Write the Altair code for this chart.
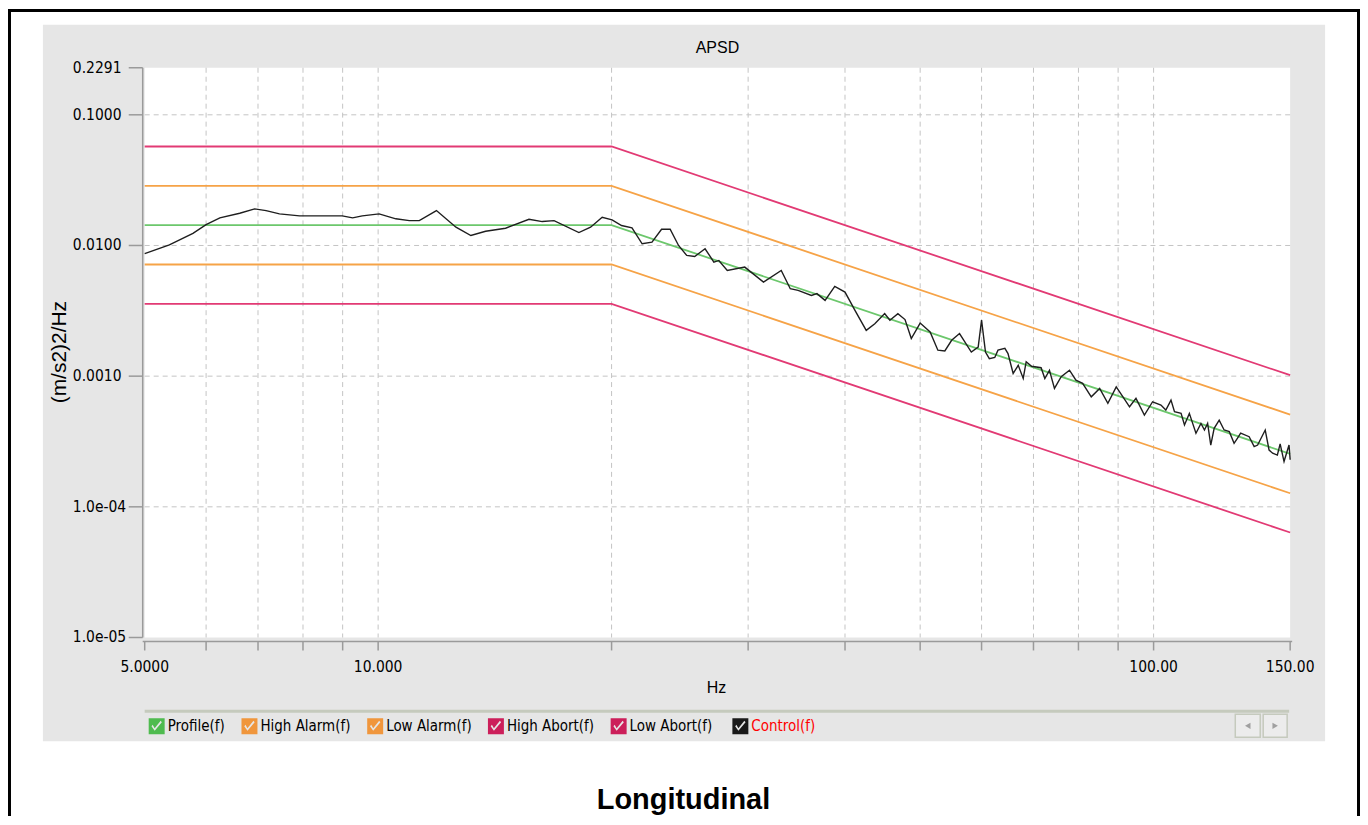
import altair as alt
import pandas as pd

# ---------------- data ----------------
series_names = ["Profile(f)", "High Alarm(f)", "Low Alarm(f)", "High Abort(f)", "Low Abort(f)", "Control(f)"]
line_colors = ["#6cc76c", "#f6a347", "#f6a347", "#e23a74", "#e23a74", "#1e1e1e"]
box_colors = ["#4fbb4f", "#f0963c", "#f0963c", "#cc1f5a", "#cc1f5a", "#1a1a1a"]

limit_freq = [5, 20, 150]
profile = [0.0143, 0.0143, 0.000254]
high_alarm = [0.0286, 0.0286, 0.000508]
low_alarm = [0.00715, 0.00715, 0.000127]
high_abort = [0.0572, 0.0572, 0.001017]
low_abort = [0.003575, 0.003575, 0.0000636]

control_freq = [5.0, 5.38, 5.77, 6.0, 6.25, 6.63, 6.93, 7.17, 7.46, 7.92, 8.99, 9.27, 9.54, 10.03,
                10.54, 10.97, 11.3, 11.89, 12.6, 13.17, 13.76, 14.6, 15.65, 16.28, 16.86, 18.15,
                18.79, 19.45, 20.03, 20.6, 21.25, 21.9, 22.55, 23.2, 23.8, 24.4, 25.0, 25.6, 26.4,
                27.1, 27.5, 28.2, 29.7, 31.4, 33.1, 34.0, 34.8, 36.2, 36.8, 37.7, 38.8, 40.0, 41.2,
                42.6, 43.7, 45.0, 45.7, 46.8, 47.8, 48.7, 50.0, 51.5, 52.7, 53.8, 54.9, 56.2, 58.2,
                59.4, 60.0, 60.7, 61.4, 62.4, 63.0, 64.3, 64.9, 65.9, 66.9, 67.9, 68.5, 69.6, 71.6,
                72.4, 73.4, 74.5, 76.0, 77.9, 79.4, 81.0, 83.1, 85.2, 87.3, 89.5, 91.3, 93.1, 94.9,
                97.3, 99.7, 102.2, 103.7, 105.3, 106.4, 108.5, 109.6, 111.2, 112.3, 113.4, 115.1,
                116.3, 117.4, 118.5, 119.7, 121.5, 123.3, 125.2, 127.0, 128.3, 129.5, 132.8, 134.8,
                136.2, 139.3, 140.9, 142.4, 144.4, 145.6, 147.3, 149.5, 150.0]
control_psd = [0.00865, 0.0101, 0.0124, 0.01446, 0.01627, 0.01765, 0.01906, 0.0185, 0.01746, 0.01686,
               0.01686, 0.01627, 0.01686, 0.01746, 0.0160, 0.0155, 0.0155, 0.0185, 0.0138, 0.01192,
               0.01285, 0.01356, 0.01588, 0.01524, 0.0155, 0.01256, 0.0138, 0.01644, 0.0157, 0.01421,
               0.01365, 0.0103, 0.0106, 0.01331, 0.01331, 0.0100, 0.00839, 0.00824, 0.00944, 0.00746,
               0.00768, 0.00644, 0.00683, 0.00525, 0.00644, 0.00467, 0.00453, 0.00415, 0.00428, 0.0038,
               0.00486, 0.0044, 0.00319, 0.00224, 0.00252, 0.00301, 0.00268, 0.00301, 0.00271, 0.00194,
               0.00255, 0.00218, 0.00158, 0.00156, 0.00188, 0.00212, 0.00153, 0.00167, 0.00268, 0.00153,
               0.00136, 0.00139, 0.00158, 0.00163, 0.00149, 0.00105, 0.00121, 0.00096, 0.00129, 0.00119,
               0.00116, 0.00096, 0.00111, 0.000805, 0.00099, 0.00111, 0.000932, 0.00088, 0.000695,
               0.000805, 0.000619, 0.000828, 0.000695, 0.000583, 0.000676, 0.000504, 0.000637, 0.000601,
               0.00055, 0.000656, 0.000534, 0.000519, 0.000423, 0.000519, 0.000435, 0.000366, 0.000435,
               0.000387, 0.000435, 0.000297, 0.000399, 0.000461, 0.000387, 0.000376, 0.000306, 0.000335,
               0.000366, 0.000344, 0.000289, 0.000297, 0.000387, 0.000272, 0.000257, 0.000249, 0.000303,
               0.000222, 0.000297, 0.000229]

x_ticks = [5, 6, 7, 8, 9, 10, 20, 30, 40, 50, 60, 70, 80, 90, 100, 150]
x_label_values = [5, 10, 100, 150]
x_label_texts = ["5.0000", "10.000", "100.00", "150.00"]
x_grid = [6, 7, 8, 9, 10, 20, 30, 40, 50, 60, 70, 80, 90, 100]

y_ticks = [1e-05, 1e-04, 1e-03, 1e-02, 0.1, 0.2291]
y_label_texts = ["1.0e-05", "1.0e-04", "0.0010", "0.0100", "0.1000", "0.2291"]
y_grid = [1e-04, 1e-03, 1e-02, 0.1]

# ---------------- tables ----------------
limit_map = {"Profile(f)": profile, "High Alarm(f)": high_alarm, "Low Alarm(f)": low_alarm,
             "High Abort(f)": high_abort, "Low Abort(f)": low_abort}
rows = []
for name, vals in limit_map.items():
    for f, v in zip(limit_freq, vals):
        rows.append({"series": name, "f": f, "psd": v})
limits_df = pd.DataFrame(rows)
control_df = pd.DataFrame({"f": control_freq, "psd": control_psd})
legend_df = pd.DataFrame({"series": series_names})
xtick_df = pd.DataFrame({"v": x_ticks})
ytick_df = pd.DataFrame({"v": y_ticks})
xlab_df = pd.DataFrame({"v": x_label_values, "t": x_label_texts})
ylab_df = pd.DataFrame({"v": y_ticks, "t": y_label_texts})
one = pd.DataFrame({"a": [0]})

COND = "DejaVu Sans Condensed, DejaVu Sans, sans-serif"
SANS = "Liberation Sans, Arial, sans-serif"
W, H = 1148, 571
GREY = "#e6e6e6"
AXC = "#9a9a9a"

xscale = alt.Scale(type="log", domain=[5, 150], nice=False)
yscale = alt.Scale(type="log", domain=[1e-05, 0.2291], nice=False)

CHECK = ("M-1,-1L1,-1L1,1L-1,1Z "
         "M-0.65,0L-0.25,0.55L0.65,-0.5L0.5,-0.7L-0.25,0.25L-0.5,-0.2Z")

base = alt.Chart(one)

# white outer frame around the grey panel (the svg background is the grey panel colour)
frame_top = base.mark_rect(color="#ffffff").encode(x=alt.value(-140), x2=alt.value(1220),
                                                    y=alt.value(-60), y2=alt.value(-43))
frame_left = base.mark_rect(color="#ffffff").encode(x=alt.value(-140), x2=alt.value(-102),
                                                     y=alt.value(-60), y2=alt.value(760))
frame_right = base.mark_rect(color="#ffffff").encode(x=alt.value(1183), x2=alt.value(1220),
                                                      y=alt.value(-60), y2=alt.value(760))
frame_bottom = base.mark_rect(color="#ffffff").encode(x=alt.value(-140), x2=alt.value(1220),
                                                       y=alt.value(675), y2=alt.value(760))
plot_bg = base.mark_rect(color="#ffffff").encode(x=alt.value(0), x2=alt.value(W),
                                                  y=alt.value(0), y2=alt.value(H))
border = base.mark_rect(fillOpacity=0, stroke="#000000", strokeWidth=3).encode(
    x=alt.value(-135.5), x2=alt.value(1216.5), y=alt.value(-57.5), y2=alt.value(790))
separator = base.mark_rule(color="#c5cabd", strokeWidth=3).encode(
    x=alt.value(0), x2=alt.value(1147), y=alt.value(645))
btn1 = base.mark_rect(fill="#ececec", stroke="#c5cabd", strokeWidth=1.5).encode(
    x=alt.value(1093), x2=alt.value(1118), y=alt.value(648), y2=alt.value(671))
btn2 = base.mark_rect(fill="#ececec", stroke="#c5cabd", strokeWidth=1.5).encode(
    x=alt.value(1121), x2=alt.value(1145), y=alt.value(648), y2=alt.value(671))
tri1 = base.mark_point(shape="triangle-left", filled=True, color="#a0a0a0", size=40, opacity=1).encode(
    x=alt.value(1105.5), y=alt.value(659.5))
tri2 = base.mark_point(shape="triangle-right", filled=True, color="#a0a0a0", size=40, opacity=1).encode(
    x=alt.value(1133), y=alt.value(659.5))
title_txt = base.mark_text(text="APSD", font=SANS, fontSize=16, color="#000000",
                           baseline="middle", align="center").encode(x=alt.value(574), y=alt.value(-20))
caption = base.mark_text(text="Longitudinal", font=SANS, fontSize=29, fontWeight="bold",
                         color="#000000", baseline="alphabetic", align="center").encode(
    x=alt.value(540), y=alt.value(743))
x_title = base.mark_text(text="Hz", font=SANS, fontSize=16, color="#000000",
                         baseline="middle", align="center").encode(x=alt.value(573), y=alt.value(622))
y_title = base.mark_text(text="(m/s2)2/Hz", font=SANS, fontSize=21, color="#000000", angle=270,
                         baseline="middle", align="center").encode(x=alt.value(-85), y=alt.value(285))

# axis lines, ticks and labels (drawn through the scales)
y_domain = base.mark_rule(color=AXC, strokeWidth=1.5).encode(
    x=alt.value(-2), y=alt.value(0), y2=alt.value(H))
x_domain = base.mark_rule(color=AXC, strokeWidth=1.5).encode(
    x=alt.value(-2), x2=alt.value(W + 2), y=alt.value(H + 4))
x_tick_marks = alt.Chart(xtick_df).mark_rule(color=AXC, strokeWidth=1.5).encode(
    x=alt.X("v:Q", scale=xscale, axis=None), y=alt.value(H + 4), y2=alt.value(H + 13))
y_tick_marks = alt.Chart(ytick_df).mark_rule(color=AXC, strokeWidth=1.5).encode(
    y=alt.Y("v:Q", scale=yscale, axis=None), x=alt.value(-16), x2=alt.value(-2))
x_labels = alt.Chart(xlab_df).mark_text(font=COND, fontSize=15.5, color="#000000",
                                        baseline="middle", align="center").encode(
    x=alt.X("v:Q", scale=xscale, axis=None), y=alt.value(H + 30), text="t:N")
y_labels = alt.Chart(ylab_df).mark_text(font=COND, fontSize=15.5, color="#000000",
                                        baseline="middle", align="left").encode(
    y=alt.Y("v:Q", scale=yscale, axis=None), x=alt.value(-72), text="t:N")

ygrid = alt.Chart(pd.DataFrame({"v": y_grid})).mark_rule(
    color="#c4c4c4", strokeWidth=1, strokeDash=[5, 4]).encode(
    y=alt.Y("v:Q", scale=yscale, axis=None))
xgrid = alt.Chart(pd.DataFrame({"v": x_grid})).mark_rule(
    color="#c4c4c4", strokeWidth=1, strokeDash=[5, 4]).encode(
    x=alt.X("v:Q", scale=xscale, axis=None))

limit_lines = alt.Chart(limits_df).mark_line(strokeWidth=1.8).encode(
    x=alt.X("f:Q", scale=xscale, axis=None),
    y=alt.Y("psd:Q", scale=yscale, axis=None),
    color=alt.Color("series:N", scale=alt.Scale(domain=series_names, range=line_colors), legend=None),
    detail="series:N",
)
control_line = alt.Chart(control_df).mark_line(color="#1e1e1e", strokeWidth=1.4).encode(
    x=alt.X("f:Q", scale=xscale, axis=None),
    y=alt.Y("psd:Q", scale=yscale, axis=None),
)

legend_common = dict(orient="none", direction="horizontal", title=None, symbolSize=256,
                     symbolStrokeWidth=0, symbolOpacity=1, labelFont=COND, labelFontSize=15,
                     labelOffset=3, columnPadding=16, padding=0, symbolOffset=0, labelLimit=300,
                     zindex=1)
# first five legend entries (black labels)
legend_a = alt.Chart(legend_df).mark_point(shape=CHECK, filled=True, size=256, opacity=1,
                                           strokeWidth=0).encode(
    fill=alt.Fill("series:N", scale=alt.Scale(domain=series_names[:5], range=box_colors[:5]),
                  legend=alt.Legend(legendX=4, legendY=652, symbolType=CHECK, labelColor="#000000",
                                    **legend_common))
).transform_filter("false")
# "Control(f)" entry with red label
legend_b = alt.Chart(legend_df).mark_point(filled=True, size=256, opacity=1, color=box_colors[5],
                                           strokeWidth=0).encode(
    shape=alt.Shape("series:N", scale=alt.Scale(domain=series_names[5:], range=[CHECK]),
                    legend=alt.Legend(legendX=589, legendY=652, symbolFillColor=box_colors[5],
                                      labelColor="#ff0000", **legend_common))
).transform_filter("false")

chart = alt.layer(frame_top, frame_left, frame_right, frame_bottom, plot_bg, border, separator,
                  btn1, btn2, tri1, tri2, title_txt, caption, x_title, y_title,
                  ygrid, xgrid, y_domain, x_domain, x_tick_marks, y_tick_marks, x_labels, y_labels,
                  limit_lines, control_line, legend_a, legend_b).properties(
    width=W, height=H,
    autosize=alt.AutoSizeParams(type="none"),
    padding={"left": 137, "top": 59, "right": 70, "bottom": 178},
).configure(background=GREY).configure_view(stroke=None, fill="#ffffff")

chart.save("out.html", embed_options={"renderer": "svg", "actions": False})
